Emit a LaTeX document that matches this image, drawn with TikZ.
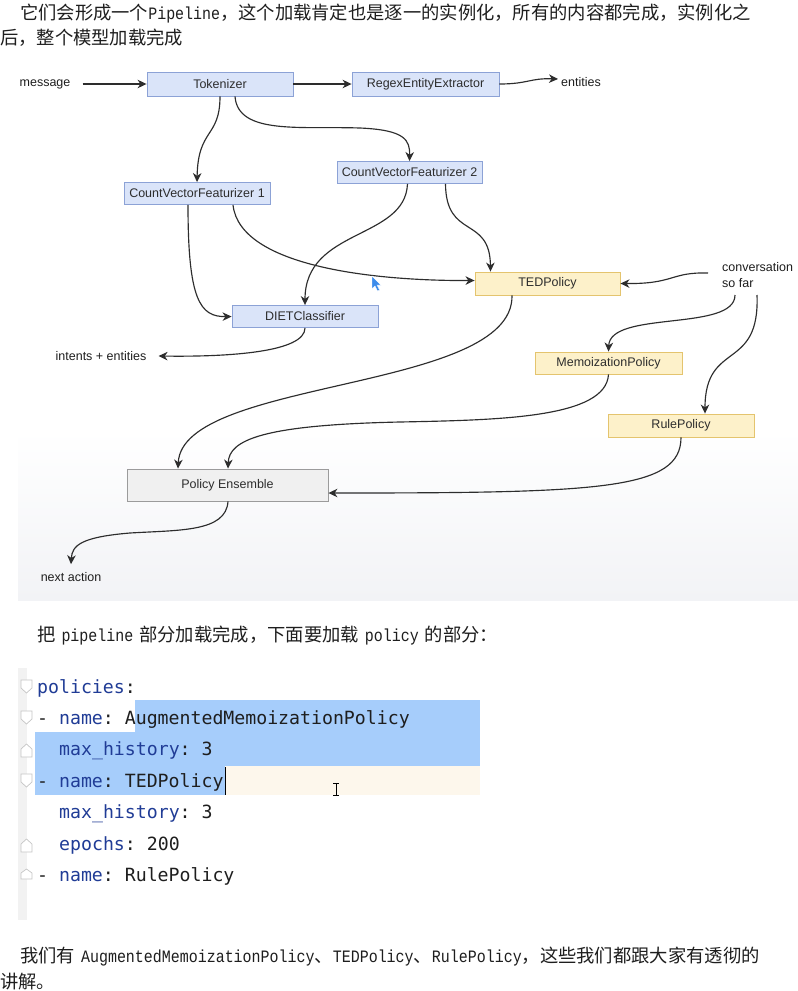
\documentclass[tikz,border=0pt]{standalone}
\usepackage{fontspec}
\setmainfont{Liberation Sans}
\newfontfamily\cjk{Noto Sans CJK SC}
\newfontfamily\lat[FakeStretch=0.86]{Liberation Mono}
\newfontfamily\codefont{DejaVu Sans Mono}
\usetikzlibrary{arrows.meta}
\definecolor{bfill}{RGB}{218,228,249}
\definecolor{bdraw}{RGB}{140,162,214}
\definecolor{yfill}{RGB}{253,241,202}
\definecolor{ydraw}{RGB}{228,196,110}
\definecolor{gfill}{RGB}{240,240,240}
\definecolor{gdraw}{RGB}{155,155,155}
\definecolor{ink}{RGB}{45,45,45}
\definecolor{keyc}{RGB}{32,60,150}
\definecolor{selc}{RGB}{166,205,251}
\definecolor{curc}{RGB}{253,247,236}
\definecolor{txt}{RGB}{30,30,30}
\definecolor{bgbot}{RGB}{242,243,246}
\definecolor{cursorblue}{RGB}{60,140,235}
\newcommand{\kc}[1]{\textcolor{keyc}{#1}}
\newcommand{\la}[1]{{\lat\fontsize{17.4}{20}\selectfont #1}}
\tikzset{
  anybox/.style={draw, line width=0.9pt, inner sep=0pt, text=ink,
     font=\fontsize{12.5}{15}\selectfont},
  bluebox/.style={anybox, fill=bfill, draw=bdraw},
  yellowbox/.style={anybox, fill=yfill, draw=ydraw},
  graybox/.style={anybox, fill=gfill, draw=gdraw},
  lbl/.style={inner sep=0pt, text=txt, font=\fontsize{12.5}{15}\selectfont},
  edge/.style={draw=ink, line width=1.15pt, -{Stealth[length=9pt,width=8.5pt,inset=2.8pt]}},
  cn/.style={inner sep=0pt, anchor=base west, text=txt, font=\cjk\fontsize{18.3}{21}\selectfont},
  codeline/.style={inner sep=0pt, anchor=base west, text=txt, font=\codefont\fontsize{18.2}{22}\selectfont\frenchspacing},
  foldmark/.style={draw=gray!45, fill=white, line width=0.7pt}
}
\begin{document}
\begin{tikzpicture}[x=1pt,y=-1pt]
\useasboundingbox (0,0) rectangle (798,991);
\fill[white] (0,0) rectangle (798,991);

% ---------- top text ----------
\node[cn] (t1) at (20,19) {它们会形成一个\la{Pipeline}，这个加载肯定也是逐一的实例化，所有的内容都完成，实例化之};
\node[cn] (t2) at (0,44) {后，整个模型加载完成};

% ---------- diagram background ----------
\shade[top color=white, bottom color=bgbot] (18,430) rectangle (798,600);

% ---------- diagram nodes ----------
\node[lbl] (msg) at (45,84) {message};
\node[bluebox, minimum width=146pt, minimum height=24pt] (tok) at (220,84) {Tokenizer};
\node[bluebox, minimum width=147pt, minimum height=24pt] (regex) at (425.5,84) {RegexEntityExtractor};
\node[lbl] (ent) at (581,82) {entities};
\node[bluebox, minimum width=146pt, minimum height=22pt] (cvf1) at (197,193.5) {CountVectorFeaturizer 1};
\node[bluebox, minimum width=145pt, minimum height=22pt] (cvf2) at (409.5,172.5) {CountVectorFeaturizer 2};
\node[bluebox, minimum width=146pt, minimum height=22pt] (diet) at (305,316.5) {DIETClassifier};
\node[lbl] (ie) at (101,356) {intents + entities};
\node[yellowbox, minimum width=145pt, minimum height=23pt] (ted) at (547.5,283.5) {TEDPolicy};
\node[lbl, anchor=west, align=left, font=\fontsize{12.5}{16}\selectfont] (conv) at (722,275) {conversation\\so far};
\node[yellowbox, minimum width=147pt, minimum height=22pt] (memo) at (608.5,363) {MemoizationPolicy};
\node[yellowbox, minimum width=146pt, minimum height=23pt] (rule) at (681,425.5) {RulePolicy};
\node[graybox, minimum width=201pt, minimum height=32pt] (pe) at (227.5,485) {Policy Ensemble};
\node[lbl] (na) at (71,577) {next action};

\coordinate (c0) at (708,273);
\coordinate (c1) at (735,295);
\coordinate (c2) at (757,295);

% ---------- diagram edges ----------
\draw[edge] ([xshift=12pt]msg.east) -- (tok.west);
\draw[edge] (tok.east) -- (regex.west);
\draw[edge] (regex.east) .. controls (528,84) and (530,78) .. ([xshift=-3pt,yshift=3pt]ent.west);
\draw[edge] (tok.south) .. controls (220,138) and (198,128) .. (cvf1.north);
\draw[edge] ([xshift=15pt]tok.south) .. controls (238,135) and (300,126) .. (360,128)
   .. controls (405,130) and (410,140) .. (cvf2.north);
\draw[edge] ([xshift=-9pt]cvf1.south) .. controls (188,300) and (200,317) .. (diet.west);
\draw[edge] ([xshift=36pt]cvf1.south) .. controls (240,268) and (380,281) .. ([yshift=3pt]ted.west);
\draw[edge] ([xshift=-2pt]cvf2.south) .. controls (405,240) and (305,228) .. (diet.north);
\draw[edge] ([xshift=36pt]cvf2.south) .. controls (446,240) and (490,215) .. ([xshift=-57pt]ted.north);
\draw[edge] (diet.south) .. controls (305,352) and (230,357) .. ([xshift=12pt]ie.east);
\draw[edge] (c0) .. controls (670,272) and (675,284) .. (ted.east);
\draw[edge] (c1) .. controls (735,332) and (610,310) .. (memo.north);
\draw[edge] (c2) .. controls (760,372) and (705,340) .. ([xshift=24pt]rule.north);
\draw[edge] ([xshift=-35.5pt]ted.south) .. controls (514,392) and (182,378) .. ([xshift=-49.5pt]pe.north);
\draw[edge] (memo.south) .. controls (606,418) and (500,420) .. (400,422)
   .. controls (262,425) and (229,440) .. ([xshift=0.5pt]pe.north);
\draw[edge] (rule.south) .. controls (681,490) and (600,493) .. ([yshift=-8pt]pe.east);
\draw[edge] ([xshift=0.5pt]pe.south) .. controls (226,532) and (180,530) .. (130,533)
   .. controls (82,537) and (72,545) .. ([yshift=8pt]na.north);

% mouse pointer
\fill[cursorblue, draw=white, line width=0.4pt] (372,276) -- (372,289) -- (375,286) -- (377.5,291) -- (379.5,290) -- (377,285) -- (381,285) -- cycle;

% ---------- middle text ----------
\node[cn] (t3) at (37,641) {把\hspace{6pt}\la{pipeline}\hspace{6pt}部分加载完成，下面要加载\hspace{6pt}\la{policy}\hspace{6pt}的部分：};

% ---------- code block ----------
\fill[gray!10] (18,668) rectangle (27,920);
\fill[selc] (135,700) rectangle (480,732);
\fill[selc] (35,732) rectangle (480,766);
\fill[selc] (35,766) rectangle (225,795);
\fill[curc] (225,766) rectangle (480,795);
% fold markers
\draw[foldmark] (21,680) -- (32,680) -- (32,688) -- (26.5,693) -- (21,688) -- cycle;
\draw[foldmark] (21,711) -- (32,711) -- (32,719) -- (26.5,724) -- (21,719) -- cycle;
\draw[foldmark] (21,757) -- (32,757) -- (32,749) -- (26.5,744) -- (21,749) -- cycle;
\draw[foldmark] (21,774) -- (32,774) -- (32,782) -- (26.5,787) -- (21,782) -- cycle;
\draw[foldmark] (21,852) -- (32,852) -- (32,844) -- (26.5,839) -- (21,844) -- cycle;
\draw[foldmark] (21,879) -- (32,879) -- (32,873) -- (26.5,869) -- (21,873) -- cycle;

\node[codeline] (l1) at (37,693) {\kc{policies}:};
\node[codeline] (l2) at (37,724) {- \kc{name}: AugmentedMemoizationPolicy};
\node[codeline] (l3) at (59,755.5) {\kc{max\_history}: 3};
\node[codeline] (l4) at (37,787) {- \kc{name}: TEDPolicy};
\node[codeline] (l5) at (59,818.5) {\kc{max\_history}: 3};
\node[codeline] (l6) at (59,850) {\kc{epochs}: 200};
\node[codeline] (l7) at (37,881.5) {- \kc{name}: RulePolicy};

% text caret and I-beam
\draw[black, line width=1.3pt] (225.5,767) -- (225.5,795);
\draw[black, line width=1pt] (336,783) -- (336,795);
\draw[black, line width=1pt] (333,783) -- (339,783);
\draw[black, line width=1pt] (333,795) -- (339,795);

% ---------- bottom text ----------
\node[cn] (t4) at (20,962) {我们有\hspace{6pt}\la{AugmentedMemoizationPolicy}、\la{TEDPolicy}、\la{RulePolicy}，这些我们都跟大家有透彻的};
\node[cn] (t5) at (0,988) {讲解。};
\end{tikzpicture}
\end{document}
